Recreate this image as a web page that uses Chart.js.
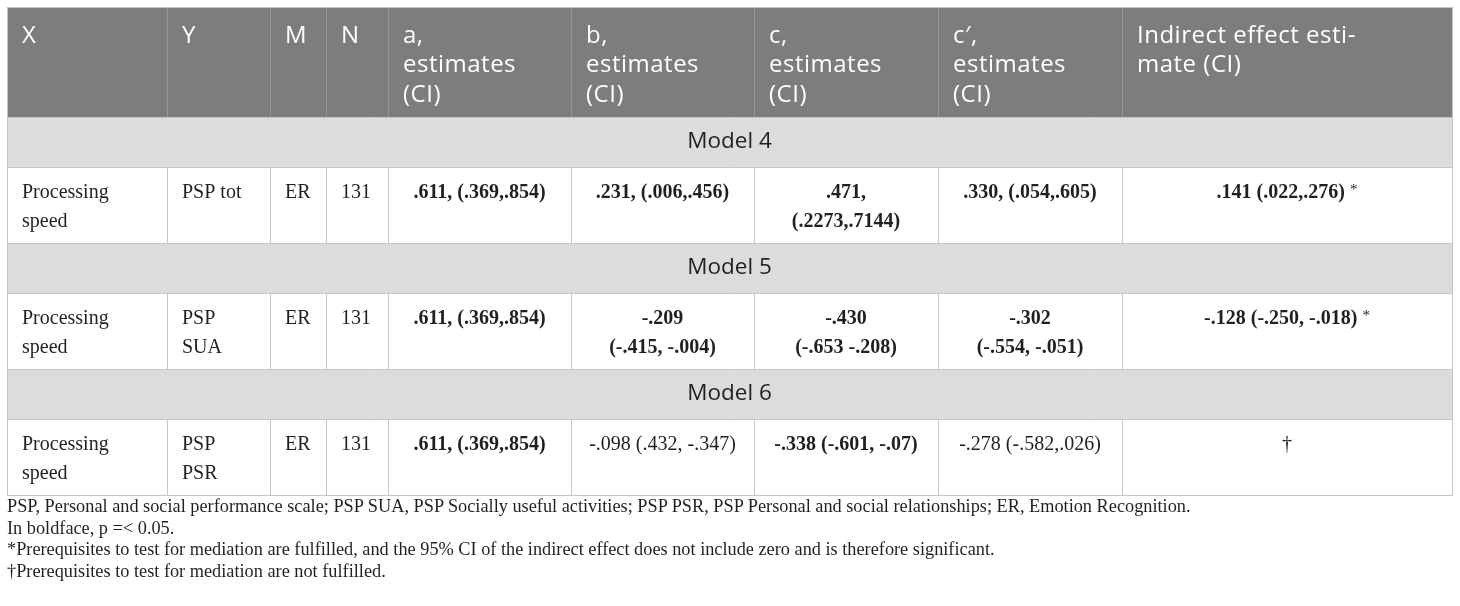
<!DOCTYPE html>
<html>
<head>
<meta charset="utf-8">
<script src="https://cdn.jsdelivr.net/npm/chart.js@4.4.1/dist/chart.umd.min.js"></script>
<style>
  html, body { margin: 0; padding: 0; background: #fff; }
  #wrap { position: relative; width: 1460px; height: 606px; }
  #table { position: absolute; left: 0; top: 0; }
  .notes {
    position: absolute;
    left: 7px;
    top: 496px;
    font-family: 'Liberation Serif', serif;
    font-size: 18.3px;
    line-height: 21.6px;
    color: #231f20;
  }
</style>
</head>
<body>
<div id="wrap">
  <canvas id="table" width="1460" height="500"></canvas>
  <div class="notes">
    <div>PSP, Personal and social performance scale; PSP SUA, PSP Socially useful activities; PSP PSR, PSP Personal and social relationships; ER, Emotion Recognition.</div>
    <div>In boldface, p =&lt; 0.05.</div>
    <div>*Prerequisites to test for mediation are fulfilled, and the 95% CI of the indirect effect does not include zero and is therefore significant.</div>
    <div>†Prerequisites to test for mediation are not fulfilled.</div>
  </div>
</div>
<script>
// table content
const headers = ['X', 'Y', 'M', 'N', 'a,\nestimates\n(CI)', 'b,\nestimates\n(CI)', 'c,\nestimates\n(CI)', 'c′,\nestimates\n(CI)', 'Indirect effect esti-\nmate (CI)'];
const models = ['Model 4', 'Model 5', 'Model 6'];
const xValues = ['Processing\nspeed', 'Processing\nspeed', 'Processing\nspeed'];
const yValues = ['PSP tot', 'PSP\nSUA', 'PSP\nPSR'];
const mValues = ['ER', 'ER', 'ER'];
const nValues = ['131', '131', '131'];
const aEstimates = ['.611, (.369,.854)', '.611, (.369,.854)', '.611, (.369,.854)'];
const bEstimates = ['.231, (.006,.456)', '-.209\n(-.415, -.004)', '-.098 (.432, -.347)'];
const cEstimates = ['.471,\n(.2273,.7144)', '-.430\n(-.653 -.208)', '-.338 (-.601, -.07)'];
const cPrimeEstimates = ['.330, (.054,.605)', '-.302\n(-.554, -.051)', '-.278 (-.582,.026)'];
const indirectEffects = ['.141 (.022,.276) *', '-.128 (-.250, -.018) *', '†'];

// boldface = p =< 0.05
const aBold = [true, true, true];
const bBold = [true, true, false];
const cBold = [true, true, true];
const cPrimeBold = [true, true, false];
const indirectBold = [true, true, false];

// layout in canvas units
const COL_EDGES = [7, 167, 270, 326, 388, 571, 754, 938, 1122, 1452];
const ROW_HEIGHTS = { header: 110, model: 50, body: 76 };
const PAD = 15;

const HEAD_FONT = '24px "Open Sans"';
const MODEL_FONT = '22.5px "Open Sans"';
const BODY_FONT = '20px "Liberation Serif"';
const BOLD_FONT = 'bold 20px "Liberation Serif"';

const COLORS = {
  header: '#7d7d7d',
  headerLine: '#959595',
  model: '#dcdcdc',
  line: '#c6c6c6',
  text: '#231f20',
};

const bodyRows = models.map((model, i) => ({
  model,
  cells: [
    { text: xValues[i], align: 'left' },
    { text: yValues[i], align: 'left' },
    { text: mValues[i], align: 'left' },
    { text: nValues[i], align: 'left' },
    { text: aEstimates[i], bold: aBold[i] },
    { text: bEstimates[i], bold: bBold[i] },
    { text: cEstimates[i], bold: cBold[i] },
    { text: cPrimeEstimates[i], bold: cPrimeBold[i] },
    { text: indirectEffects[i], bold: indirectBold[i] },
  ],
}));

const drawCellText = (ctx, cell, left, right, top) => {
  const lines = cell.text.split('\n');
  lines.forEach((line, i) => {
    const y = top + 26 + i * 28.5;
    let main = line;
    let mark = '';
    if (line.endsWith(' *')) {
      main = line.slice(0, -1);
      mark = '*';
    }
    ctx.font = cell.bold ? BOLD_FONT : BODY_FONT;
    const mainWidth = ctx.measureText(main).width;
    ctx.font = '15px "Liberation Serif"';
    const markWidth = mark ? ctx.measureText(mark).width : 0;
    let x = left + PAD;
    if (cell.align !== 'left') {
      x = (left + right) / 2 - (mainWidth + markWidth) / 2;
    }
    ctx.font = cell.bold ? BOLD_FONT : BODY_FONT;
    ctx.fillText(main, x, y);
    if (mark) {
      ctx.font = '15px "Liberation Serif"';
      ctx.fillText(mark, x + mainWidth, y - 3);
    }
  });
};

const tablePlugin = {
  id: 'tablePlugin',
  afterDraw(chart) {
    const { ctx, scales: { x, y } } = chart;
    const px = COL_EDGES.map((edge) => x.getPixelForValue(edge));
    const left = px[0];
    const right = px[px.length - 1];

    ctx.save();
    ctx.textBaseline = 'middle';

    // header
    let top = 7;
    let bottom = top + ROW_HEIGHTS.header;
    let yTop = y.getPixelForValue(top);
    let yBottom = y.getPixelForValue(bottom);
    ctx.fillStyle = COLORS.header;
    ctx.fillRect(left, yTop, right - left, yBottom - yTop);
    ctx.strokeStyle = COLORS.headerLine;
    ctx.lineWidth = 1;
    px.slice(1, -1).forEach((edge) => {
      ctx.beginPath();
      ctx.moveTo(Math.round(edge) + 0.5, yTop);
      ctx.lineTo(Math.round(edge) + 0.5, yBottom);
      ctx.stroke();
    });
    ctx.fillStyle = '#ffffff';
    ctx.font = HEAD_FONT;
    ctx.letterSpacing = '0.5px';
    headers.forEach((header, col) => {
      header.split('\n').forEach((line, i) => {
        ctx.fillText(line, px[col] + PAD, yTop + 29 + i * 29.5);
      });
    });
    ctx.letterSpacing = '0px';

    const hLines = [];
    const vSegments = [];

    bodyRows.forEach((row) => {
      // model band
      top = bottom;
      bottom = top + ROW_HEIGHTS.model;
      yTop = y.getPixelForValue(top);
      yBottom = y.getPixelForValue(bottom);
      ctx.fillStyle = COLORS.model;
      ctx.fillRect(left, yTop, right - left, yBottom - yTop);
      ctx.fillStyle = COLORS.text;
      ctx.font = MODEL_FONT;
      ctx.textAlign = 'center';
      ctx.fillText(row.model, (left + right) / 2, (yTop + yBottom) / 2);
      ctx.textAlign = 'left';
      hLines.push(yTop, yBottom);

      // values
      top = bottom;
      bottom = top + ROW_HEIGHTS.body;
      yTop = y.getPixelForValue(top);
      yBottom = y.getPixelForValue(bottom);
      ctx.fillStyle = COLORS.text;
      row.cells.forEach((cell, col) => {
        drawCellText(ctx, cell, px[col], px[col + 1], yTop);
      });
      hLines.push(yBottom);
      vSegments.push([yTop, yBottom]);
    });

    ctx.strokeStyle = COLORS.line;
    ctx.lineWidth = 1;
    hLines.forEach((ly) => {
      ctx.beginPath();
      ctx.moveTo(left, Math.round(ly) + 0.5);
      ctx.lineTo(right, Math.round(ly) + 0.5);
      ctx.stroke();
    });
    vSegments.forEach(([a, b]) => {
      px.forEach((edge) => {
        ctx.beginPath();
        ctx.moveTo(Math.round(edge) + 0.5, a);
        ctx.lineTo(Math.round(edge) + 0.5, b);
        ctx.stroke();
      });
    });
    // outer frame
    const frameTop = y.getPixelForValue(7);
    ctx.strokeRect(Math.round(left) + 0.5, Math.round(frameTop) + 0.5, Math.round(right - left), Math.round(yBottom - frameTop));
    ctx.restore();
  },
};

new Chart(document.getElementById('table'), {
  type: 'scatter',
  data: { datasets: [{ data: [] }] },
  options: {
    responsive: false,
    animation: false,
    events: [],
    layout: { padding: 0 },
    plugins: {
      legend: { display: false },
      tooltip: { enabled: false },
    },
    scales: {
      x: { type: 'linear', display: false, min: 0, max: 1460 },
      y: { type: 'linear', display: false, min: 0, max: 500, reverse: true },
    },
  },
  plugins: [tablePlugin],
});
</script>
</body>
</html>
